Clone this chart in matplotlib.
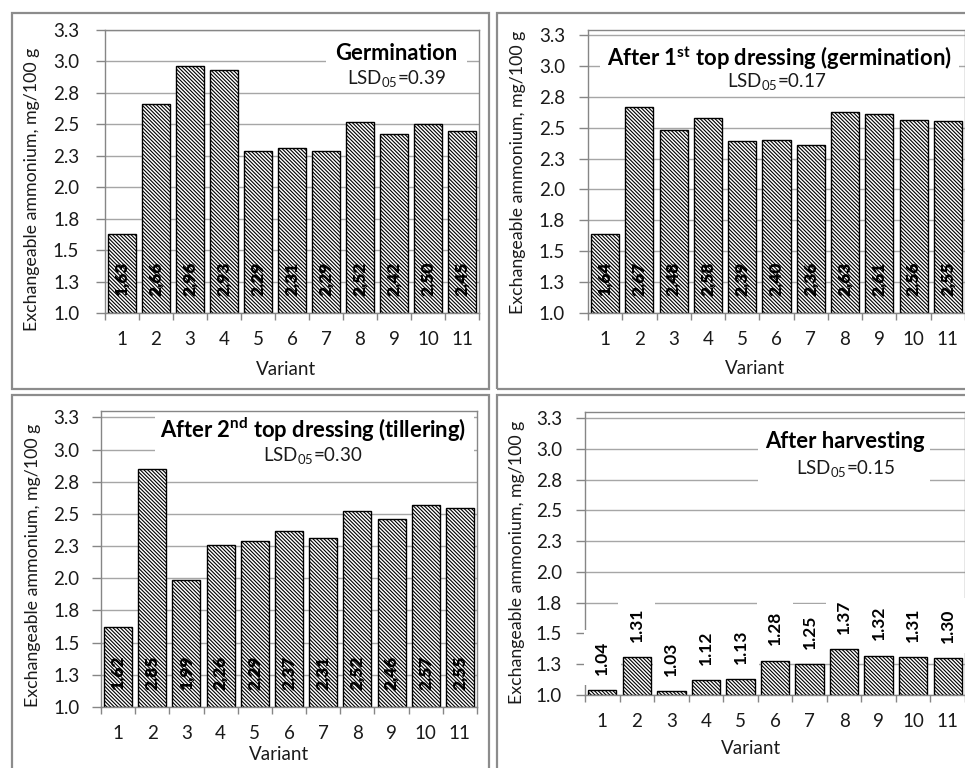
import matplotlib
matplotlib.use('Agg')
import matplotlib.pyplot as plt
from matplotlib.patches import Rectangle

plt.rcParams['font.family'] = ['Lato', 'DejaVu Sans']
plt.rcParams['hatch.linewidth'] = 0.8

# ---------------- data ----------------
variants = list(range(1, 12))
germination = [1.63, 2.66, 2.96, 2.93, 2.29, 2.31, 2.29, 2.52, 2.42, 2.50, 2.45]
after_1st = [1.64, 2.67, 2.48, 2.58, 2.39, 2.40, 2.36, 2.63, 2.61, 2.56, 2.55]
after_2nd = [1.62, 2.85, 1.99, 2.26, 2.29, 2.37, 2.31, 2.52, 2.46, 2.57, 2.55]
after_harvest = [1.04, 1.31, 1.03, 1.12, 1.13, 1.28, 1.25, 1.37, 1.32, 1.31, 1.30]

titles = ["Germination",
          "After 1$^{\\mathregular{st}}$ top dressing (germination)",
          "After 2$^{\\mathregular{nd}}$ top dressing (tillering)",
          "After harvesting"]
lsd_values = [0.39, 0.17, 0.30, 0.15]
ytick_values = [1.0, 1.25, 1.5, 1.75, 2.0, 2.25, 2.5, 2.75, 3.0, 3.25]
ytick_labels = ["1.0", "1.3", "1.5", "1.8", "2.0", "2.3", "2.5", "2.8", "3.0", "3.3"]
ylabel = "Exchangeable ammonium, mg/100 g"
xlabel = "Variant"

series = [germination, after_1st, after_2nd, after_harvest]
decimal_comma = [True, True, True, False]

# ---------------- layout (pixels) ----------------
W, H = 965, 768
fig = plt.figure(figsize=(W / 100, H / 100), dpi=100)


def fx(x):
    return x / W


def fy(y):
    return 1 - y / H


panels = [
    dict(ax=(105, 30, 479, 313), ymax=3.25, border=(12, 13, 489, 389), tbox=(326, 42, 467, 88),
         title_xy=(396, 53), lsd_xy=(396, 79), ylab_xy=(32, 189), xlab_xy=(286, 370), ypad=12),
    dict(ax=(588, 30, 965, 313), ymax=3.29, border=(497, 13, 969, 389), tbox=(600, 39, 959, 90),
         title_xy=(779, 58), lsd_xy=(777, 82), ylab_xy=(518, 172), xlab_xy=(755, 368), ypad=10),
    dict(ax=(101, 411, 477, 707), ymax=3.30, border=(12, 395, 489, 771), tbox=(155, 413, 474, 472),
         title_xy=(313, 430), lsd_xy=(313, 456), ylab_xy=(33, 565), xlab_xy=(279, 755), ypad=9),
    dict(ax=(585, 412, 965, 695), ymax=3.30, border=(497, 395, 969, 771), tbox=(758, 425, 930, 490),
         title_xy=(845, 442), lsd_xy=(845, 469), ylab_xy=(517, 562), xlab_xy=(751, 748), ypad=10),
]

grid_c = '#a6a6a6'
axis_c = '#868686'
text_c = '#1a1a1a'

for k, p in enumerate(panels):
    # panel border
    bx0, by0, bx1, by1 = p['border']
    fig.patches.append(Rectangle((fx(bx0), fy(by1)), (bx1 - bx0) / W, (by1 - by0) / H,
                                 transform=fig.transFigure, fill=False,
                                 edgecolor='#8c8c8c', linewidth=1.6, zorder=0))
    x0, y0, x1, y1 = p['ax']
    ax = fig.add_axes([fx(x0), fy(y1), (x1 - x0) / W, (y1 - y0) / H])
    ax.set_facecolor('white')
    ax.set_xlim(0.5, 11.5)
    ax.set_ylim(1.0, p['ymax'])
    vals = series[k]
    ax.bar(variants, [v - 1.0 for v in vals], bottom=1.0, width=0.82, color='white',
           edgecolor='black', linewidth=1.0, hatch='\\' * 9, zorder=2)
    ax.set_axisbelow(True)
    ax.set_yticks(ytick_values)
    ax.set_yticklabels(ytick_labels, fontsize=13.5, color=text_c)
    ax.yaxis.grid(True, color=grid_c, linewidth=1.0)
    ax.tick_params(axis='y', length=6.5, width=1, color=axis_c, pad=p['ypad'])
    ax.set_xticks(variants)
    ax.set_xticklabels([str(v) for v in variants], fontsize=13.5, color=text_c)
    ax.tick_params(axis='x', which='major', length=0, pad=13)
    ax.set_xticks([v - 0.5 for v in variants] + [11.5], minor=True)
    ax.tick_params(axis='x', which='minor', length=5, width=1, color=axis_c, direction='out')
    for s in ax.spines.values():
        s.set_color(axis_c)
        s.set_linewidth(1.0)

    # title backdrop box hiding gridlines
    tx0, ty0, tx1, ty1 = p['tbox']
    ax.add_patch(Rectangle((fx(tx0), fy(ty1)), (tx1 - tx0) / W, (ty1 - ty0) / H,
                           transform=fig.transFigure, facecolor='white', edgecolor='none', zorder=1))

    # value labels
    for v, val in zip(variants, vals):
        txt = f"{val:.2f}"
        if decimal_comma[k]:
            txt = txt.replace('.', ',')
        if k < 3:
            ax.annotate(txt, xy=(v, 1.0), xytext=(0, 12), textcoords='offset points',
                        rotation=90, ha='center', va='bottom', fontsize=12.5,
                        fontweight='heavy', color='black', zorder=4)
        else:
            ax.annotate(txt, xy=(v, val), xytext=(0, 11), textcoords='offset points',
                        rotation=90, ha='center', va='bottom', fontsize=12.5,
                        fontweight='bold', color='black', zorder=4,
                        bbox=dict(boxstyle='square,pad=0.6', facecolor='white', edgecolor='none'))

    # titles
    fig.text(fx(p['title_xy'][0]), fy(p['title_xy'][1]), titles[k], ha='center', va='center',
             fontsize=15.8, fontweight='bold', color='black')
    fig.text(fx(p['lsd_xy'][0]), fy(p['lsd_xy'][1]),
             "LSD$_{\\mathregular{05}}$=" + f"{lsd_values[k]:.2f}",
             ha='center', va='center', fontsize=13.5, color=text_c)
    fig.text(fx(p['ylab_xy'][0]), fy(p['ylab_xy'][1]), ylabel, rotation=90,
             ha='center', va='center', fontsize=12.8, color=text_c)
    fig.text(fx(p['xlab_xy'][0]), fy(p['xlab_xy'][1]), xlabel,
             ha='center', va='center', fontsize=13.5, color=text_c)

fig.savefig('out.png', dpi=100)
